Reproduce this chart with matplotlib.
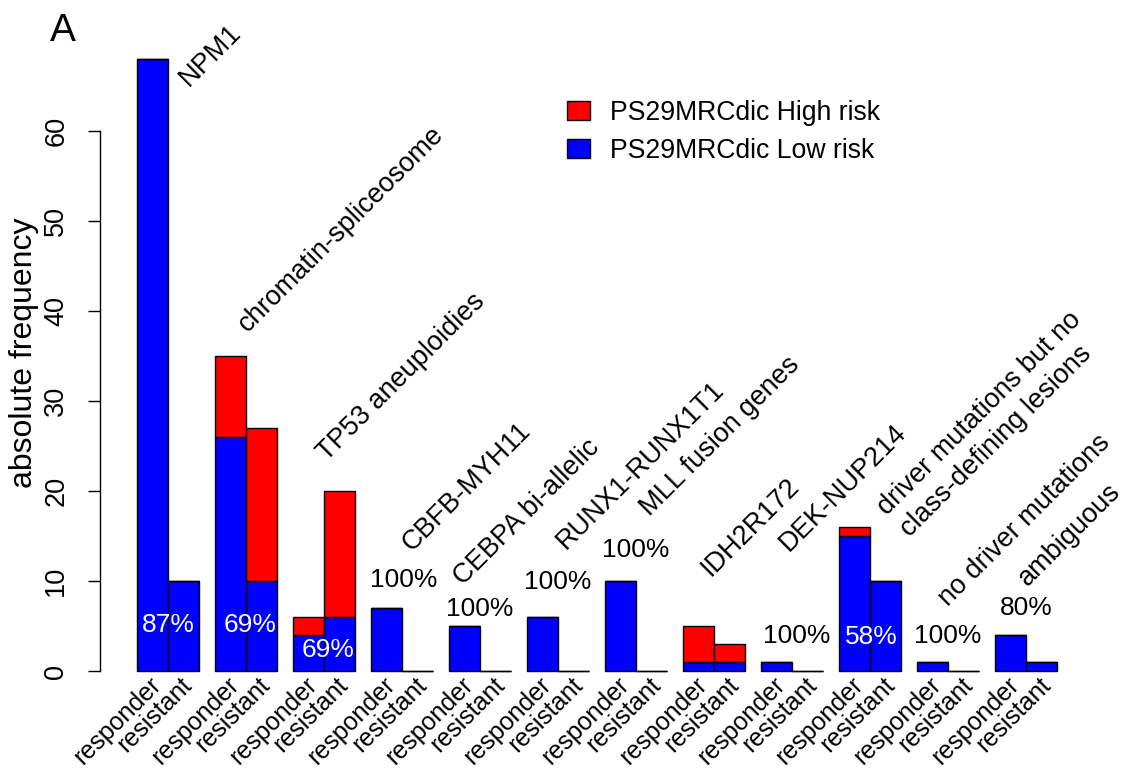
import numpy as np
import matplotlib
matplotlib.use('Agg')
import matplotlib.pyplot as plt
from matplotlib.patches import Patch
from matplotlib.transforms import offset_copy

plt.rcParams['font.family'] = ['Liberation Sans', 'DejaVu Sans']

categories = ['NPM1', 'chromatin-spliceosome', 'TP53 aneuploidies', 'CBFB-MYH11',
              'CEBPA bi-allelic', 'RUNX1-RUNX1T1', 'MLL fusion genes', 'IDH2R172',
              'DEK-NUP214', 'driver mutations but no\nclass-defining lesions',
              'no driver mutations', 'ambiguous']
groups = ['responder', 'resistant']

# counts per class: low / high risk, responders and resistant patients
resp_low = [68, 26, 4, 7, 5, 6, 10, 1, 1, 15, 1, 4]
resp_high = [0, 9, 2, 0, 0, 0, 0, 4, 0, 1, 0, 0]
res_low = [10, 10, 6, 0, 0, 0, 0, 1, 0, 10, 0, 1]
res_high = [0, 17, 14, 0, 0, 0, 0, 2, 0, 0, 0, 0]

pct_text = ['87%', '69%', '69%', '100%', '100%', '100%', '100%', '', '100%', '58%', '100%', '80%']
pct_white = [True, True, True, False, False, False, False, False, False, True, False, False]

# label placement (data units)
pct_y = [5.1, 5.1, 2.3, 10.1, 6.9, 9.9, 13.4, 0, 3.9, 3.8, 3.9, 7.0]
pct_dx = [0, 0.12, 0.12, 0.05, 0, 0, 0, 0, 0.15, 0.05, 0, 0]
cat_x = [2.17, 4.06, 6.6, 9.3, 10.95, 14.25, 16.95, 18.9, 21.4, 25.15, 26.5, 29.05]
cat_y = [64.9, 37.6, 23.2, 13.2, 9.4, 13.4, 17.1, 10.4, 13.2, 15.2, 7.1, 9.4]

RED, BLUE = '#ff0000', '#0000ff'

fig = plt.figure(figsize=(11.25, 7.69), dpi=100)
ax = fig.add_axes([99.9/1125, 73.5/769, 994.1/1125, 661/769])

n = len(categories)
g = np.arange(n)
x_resp = 1.0 + 2.5*g
x_res = 2.0 + 2.5*g
kw = dict(width=1.0, edgecolor='black', linewidth=1.0)
ax.bar(x_resp, resp_low, color=BLUE, **kw)
ax.bar(x_resp, resp_high, bottom=resp_low, color=RED, **kw)
ax.bar(x_res, res_low, color=BLUE, **kw)
ax.bar(x_res, res_high, bottom=res_low, color=RED, **kw)

ax.set_xlim(-0.68, 31.18)
ax.set_ylim(-2.72, 70.72)
for s in ['top', 'right', 'bottom']:
    ax.spines[s].set_visible(False)
ax.spines['left'].set_bounds(0, 60)
ax.spines['left'].set_linewidth(1.0)
ax.set_yticks(np.arange(0, 61, 10))
ax.tick_params(axis='y', length=9, width=1.0, pad=13, labelsize=19.5, labelrotation=90)
for t in ax.get_yticklabels():
    t.set_va('center')
ax.set_xticks([])

# group names under the bars
lab_tr = offset_copy(ax.transData, fig=fig, x=5, y=-10, units='dots')
for i in range(n):
    for xx, name in zip([x_resp[i], x_res[i]], groups):
        ax.text(xx, 0, name, transform=lab_tr, rotation=45, rotation_mode='anchor',
                ha='right', va='center', fontsize=18, clip_on=False)

# class names
for i in range(n):
    ax.text(cat_x[i], cat_y[i], categories[i], rotation=45, rotation_mode='anchor',
            ha='left', va='baseline', fontsize=19.5, linespacing=1.25, clip_on=False)

# percentages
for i in range(n):
    if pct_text[i]:
        ax.text(1.5 + 2.5*i + pct_dx[i], pct_y[i], pct_text[i], ha='center', va='center',
                fontsize=19, color='white' if pct_white[i] else 'black')

fig.text(24/1125, 1 - 353/769, 'absolute frequency', rotation=90, ha='center', va='center',
         fontsize=23)
fig.text(50/1125, 1 - 41/769, 'A', fontsize=28, ha='left', va='baseline')

handles = [Patch(facecolor=RED, edgecolor='black', linewidth=1.0, label='PS29MRCdic High risk'),
           Patch(facecolor=BLUE, edgecolor='black', linewidth=1.0, label='PS29MRCdic Low risk')]
ax.legend(handles=handles, loc='upper left', bbox_to_anchor=(567/1125, 1 - 100/769),
          bbox_transform=fig.transFigure, frameon=False, fontsize=19.2,
          handlelength=0.85, handleheight=0.72, handletextpad=0.78, borderpad=0,
          borderaxespad=0, labelspacing=0.45)

fig.savefig('out.png', dpi=100)
